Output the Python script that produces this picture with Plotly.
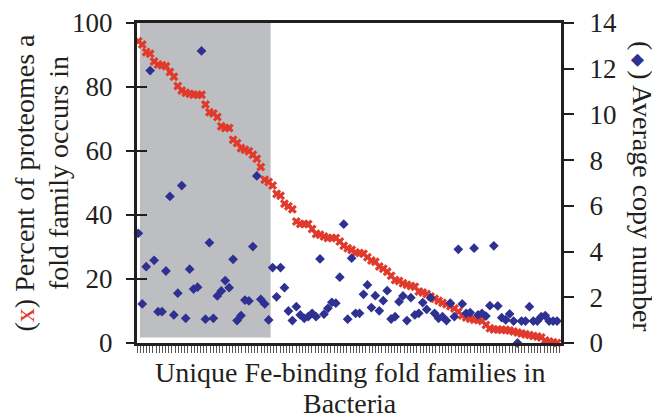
import plotly.graph_objects as go

# Fold-family index (one per unique Fe-binding fold family in Bacteria)
families = list(range(107))

# (x) Percent of proteomes a fold family occurs in
percent = [
    94.3, 93.3, 90.9, 90.4, 88.0, 87.0, 86.8, 86.5, 84.7, 83.2,
    80.3, 78.9, 78.2, 77.9, 77.6, 77.6, 77.6, 74.5, 72.1, 71.7,
    70.6, 67.7, 67.2, 67.2, 63.5, 62.5, 60.9, 60.4, 59.9, 58.8,
    57.6, 55.0, 51.0, 50.3, 49.2, 46.6, 46.0, 43.5, 42.7, 41.8,
    38.0, 37.2, 37.2, 37.2, 35.6, 34.1, 33.8, 33.3, 32.8, 32.8,
    32.8, 31.7, 30.4, 29.6, 29.1, 28.3, 28.1, 27.9, 26.8, 25.8,
    25.4, 23.9, 23.2, 22.3, 21.0, 19.7, 19.4, 18.7, 18.2, 17.8,
    17.6, 16.1, 15.8, 15.3, 14.5, 13.8, 13.2, 12.6, 12.1, 11.5,
    10.8, 9.8, 8.6, 8.0, 7.6, 7.3, 7.2, 6.9, 5.6, 4.6,
    4.2, 4.2, 4.1, 4.1, 3.9, 3.6, 3.3, 3.0, 2.7, 2.5,
    2.2, 2.0, 1.7, 0.8, 0.5, 0.2, 0.0,
]

# (diamond) Average copy number
copy_number = [
    4.80, 1.71, 3.34, 11.92, 3.62, 1.37, 1.37, 3.15, 6.41, 1.23,
    2.18, 6.89, 1.08, 3.23, 2.36, 2.44, 12.78, 1.04, 4.39, 1.08,
    2.06, 2.28, 2.73, 2.42, 3.66, 0.98, 1.20, 1.88, 1.84, 4.22,
    7.31, 1.91, 1.71, 1.01, 3.30, 2.02, 3.30, 2.42, 1.40, 0.98,
    1.59, 1.23, 1.08, 1.15, 1.30, 1.15, 3.68, 1.26, 1.52, 1.78,
    1.74, 2.88, 5.20, 1.04, 3.71, 1.30, 1.30, 2.13, 2.54, 1.55,
    2.07, 1.41, 1.85, 2.29, 1.05, 1.15, 1.81, 2.06, 0.98, 1.98,
    1.23, 1.30, 1.77, 1.47, 1.98, 1.30, 1.08, 1.15, 0.98, 1.74,
    1.15, 4.10, 1.71, 1.30, 1.33, 4.15, 1.23, 1.30, 1.18, 1.63,
    4.25, 1.62, 1.11, 1.01, 1.27, 0.96, 0.00, 0.96, 0.96, 1.59,
    0.96, 0.96, 1.15, 1.20, 0.96, 0.96, 0.96,
]

left_ticks = [0, 20, 40, 60, 80, 100]
right_ticks = [0, 2, 4, 6, 8, 10, 12, 14]
shaded_span = (0.43, 33.5)   # families in the shaded (grey) block

RED = "#e03a2c"
BLUE = "#2e3192"
GREY = "#bdbec1"
INK = "#231f20"
FONT = "Liberation Serif, Times New Roman, serif"

fig = go.Figure()

fig.add_trace(go.Scatter(
    x=families, y=percent, mode="markers", yaxis="y",
    marker=dict(symbol="x", size=8, color=RED, line=dict(width=0)),
    cliponaxis=False, showlegend=False,
))
fig.add_trace(go.Scatter(
    x=families, y=copy_number, mode="markers", yaxis="y2",
    marker=dict(symbol="diamond", size=7.5, color=BLUE, line=dict(width=0)),
    cliponaxis=False, showlegend=False,
))
# empty helper trace so the inner-tick overlay axis is drawn
fig.add_trace(go.Scatter(x=[], y=[], yaxis="y3", showlegend=False, hoverinfo="skip"))

fig.add_shape(type="rect", xref="x", yref="y",
              x0=shaded_span[0], x1=shaded_span[1], y0=1.7, y1=101,
              fillcolor=GREY, line=dict(width=0), layer="below")

tickfont = dict(family=FONT, size=27, color=INK)

# page body has an 8px margin, so the figure is 8px smaller and l/t shifted
fig.update_layout(
    width=652, height=412,
    margin=dict(l=129, r=99, t=15, b=77, autoexpand=False),
    paper_bgcolor="white", plot_bgcolor="white",
    font=dict(family=FONT, color=INK),
    xaxis=dict(
        range=[-0.33, 107.0], showgrid=False, zeroline=False, automargin=False,
        showline=True, linewidth=3, linecolor=INK, mirror=True,
        ticks="outside", ticklen=7, tickwidth=1, tickcolor="#555555",
        tickmode="linear", tick0=-0.33, dtick=0.805,
        showticklabels=False,
    ),
    yaxis=dict(
        range=[0, 100], showgrid=False, zeroline=False, automargin=False,
        showline=True, linewidth=3, linecolor=INK,
        ticks="outside", ticklen=8, tickwidth=1.5, tickcolor=INK,
        tickvals=left_ticks, tickfont=tickfont, ticklabelstandoff=8,
    ),
    yaxis2=dict(
        range=[0, 14], overlaying="y", side="right", showgrid=False, zeroline=False,
        automargin=False,
        showline=True, linewidth=3, linecolor=INK,
        ticks="outside", ticklen=10, tickwidth=1.5, tickcolor=INK,
        tickvals=right_ticks, tickfont=tickfont, ticklabelstandoff=10,
    ),
    yaxis3=dict(
        range=[0, 100], overlaying="y", side="left", showgrid=False, zeroline=False,
        automargin=False,
        showline=False, ticks="inside", ticklen=10, tickwidth=1.5, tickcolor=INK,
        tickvals=left_ticks, showticklabels=False,
    ),
)

title_font = dict(family=FONT, size=28, color=INK)
diamond = (f"<span style='color:{BLUE};font-family:DejaVu Sans;font-size:17px'>"
           "\u2009\u25c6\u2009</span>")
ann = [
    dict(text="Unique Fe-binding fold families in", x=0.502, y=-0.0922),
    dict(text="Bacteria", x=0.502, y=-0.189),
    dict(text=f"(<span style='color:{RED}'>x</span>) Percent of proteomes a",
         x=-0.2642, y=0.5016, textangle=-90),
    dict(text="fold family occurs in", x=-0.1863, y=0.531, textangle=-90),
    dict(text=f"({diamond}) Average copy number",
         x=1.194, y=0.49, textangle=90),
]
for a in ann:
    fig.add_annotation(xref="paper", yref="paper", xanchor="center", yanchor="middle",
                       showarrow=False, font=title_font, **a)

fig.write_html("out.html")
